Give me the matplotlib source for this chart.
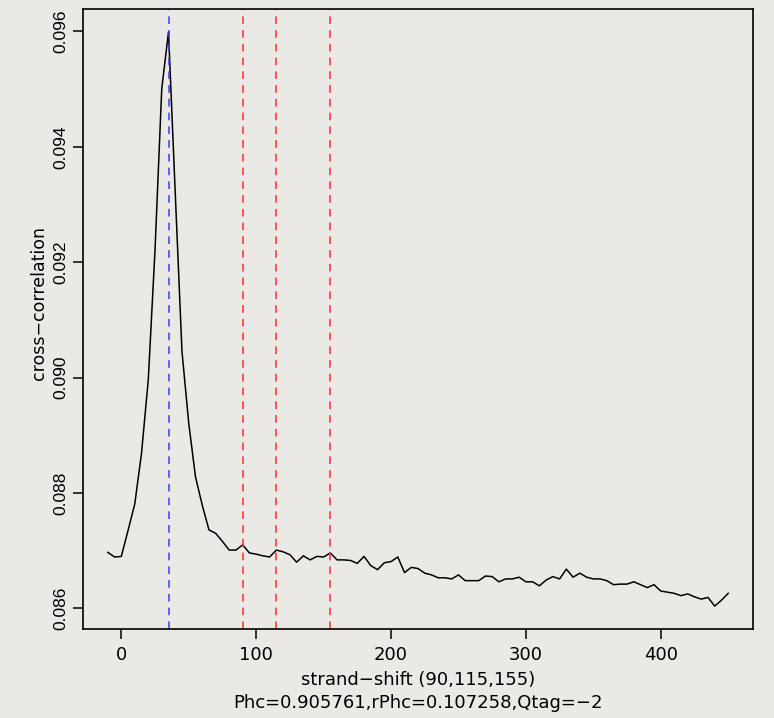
import matplotlib
matplotlib.use("Agg")
import matplotlib.pyplot as plt

plt.rcParams['font.family'] = ['DejaVu Sans']

# strand shift (bp) and cross-correlation values
shift = list(range(-10, 455, 5))
ccor = [0.08697, 0.08689, 0.08690, 0.08735, 0.08781, 0.08869, 0.08996, 0.09221,
        0.09501, 0.09599, 0.09320, 0.09045, 0.08921, 0.08828, 0.08779, 0.08736,
        0.08730, 0.08716, 0.08701, 0.08701, 0.08710, 0.08696, 0.08694, 0.08691,
        0.08689, 0.08701, 0.08698, 0.08693, 0.08680, 0.08691, 0.08684, 0.08690,
        0.08689, 0.08696, 0.08684, 0.08684, 0.08683, 0.08678, 0.08690, 0.08674,
        0.08667, 0.08679, 0.08681, 0.08689, 0.08662, 0.08671, 0.08669, 0.08661,
        0.08658, 0.08653, 0.08653, 0.08651, 0.08658, 0.08648, 0.08648, 0.08648,
        0.08656, 0.08655, 0.08646, 0.08651, 0.08651, 0.08654, 0.08646, 0.08646,
        0.08639, 0.08649, 0.08655, 0.08651, 0.08668, 0.08654, 0.08661, 0.08654,
        0.08651, 0.08651, 0.08648, 0.08641, 0.08642, 0.08642, 0.08646, 0.08641,
        0.08636, 0.08641, 0.08630, 0.08628, 0.08626, 0.08622, 0.08625, 0.08620,
        0.08616, 0.08619, 0.08604, 0.08614, 0.08626]

best_shift = 35
peak_shifts = [90, 115, 155]
xticks = [0, 100, 200, 300, 400]
yticks = [0.086, 0.088, 0.090, 0.092, 0.094, 0.096]

bg = "#eae9e6"
W, H = 774, 718
fig = plt.figure(figsize=(W / 100, H / 100), dpi=100, facecolor=bg)
ax = fig.add_axes([83 / W, 1 - 629 / H, (753 - 83) / W, (629 - 9) / H])
ax.set_facecolor(bg)

ax.plot(shift, ccor, color="black", lw=1.1)
ax.margins(x=0.04, y=0.04)

ax.axvline(best_shift, color="#3a3aff", lw=1.1, ls=(0, (5, 4)))
for p in peak_shifts:
    ax.axvline(p, color="#ff2e2e", lw=1.1, ls=(0, (5, 4)))

for s in ax.spines.values():
    s.set_linewidth(1.2)

ax.set_xticks(xticks)
ax.set_xticklabels([str(t) for t in xticks], fontsize=13)
ax.set_yticks(yticks)
# y labels are parallel to the axis, narrower face so their length matches
ax.set_yticklabels(["%.3f" % t for t in yticks], rotation=90, va="center",
                   family="Liberation Sans", fontsize=12.5)
ax.tick_params(axis="both", direction="out", length=7.2, width=1.1)
ax.tick_params(axis="x", pad=5)
ax.tick_params(axis="y", pad=3)

cx = (83 + 753) / 2 / W
fig.text(cx, 1 - 680 / H, "strand\u2212shift (90,115,155)", ha="center", va="center", fontsize=13)
fig.text(cx, 1 - 703 / H, "Phc=0.905761,rPhc=0.107258,Qtag=\u22122", ha="center", va="center", fontsize=13)
fig.text(39 / W, 1 - 303 / H, "cross\u2212correlation", rotation=90, ha="center", va="center", fontsize=12.5)

fig.savefig("out.png", dpi=100, facecolor=bg)
